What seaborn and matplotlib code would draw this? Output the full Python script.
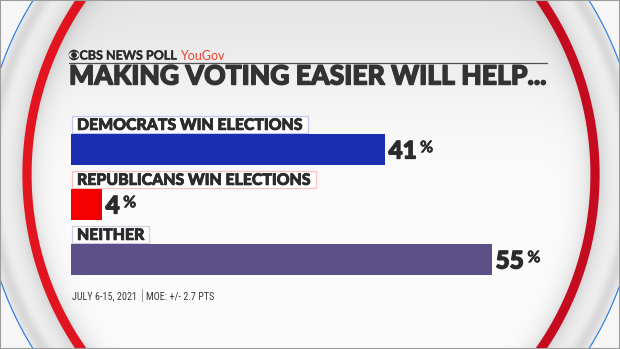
import numpy as np
import matplotlib
matplotlib.use("Agg")
import matplotlib.pyplot as plt
from matplotlib import font_manager as fm
from matplotlib import patheffects as pe
from matplotlib.colors import to_rgb
from matplotlib.patches import Ellipse, Circle, Rectangle
import seaborn as sns

# Poll results
categories = ["DEMOCRATS WIN ELECTIONS", "REPUBLICANS WIN ELECTIONS", "NEITHER"]
shares = [41, 4, 55]
bar_colors = ["#1b2db1", "#f40000", "#5d5089"]
label_edges = ["#c3c8f0", "#f4c2c2", "#d3cfe0"]

title_text = "MAKING VOTING EASIER WILL HELP..."
brand_text = "CBS NEWS POLL"
partner_text = "YouGov"
date_text = "JULY 6-15, 2021"
moe_text = "MOE: +/- 2.7 PTS"

W, H = 620, 349
INK = "#2b2b2b"

sns.set_theme(style="white")
plt.rcParams["font.family"] = ["Lato", "DejaVu Sans"]


def _weight(f):
    w = f.weight
    if isinstance(w, str):
        w = fm.weight_dict.get(w, 400)
    return int(w)


def find_face(families, min_w=0, max_w=1000, narrow=False):
    """Return a font file from the preferred families within a weight range."""
    best = None
    for rank, fam in enumerate(families):
        for f in fm.fontManager.ttflist:
            if f.name != fam or f.style != "normal":
                continue
            is_narrow = (f.stretch not in ("normal", 500) or "Narrow" in f.fname
                         or "Condensed" in f.fname)
            if narrow != is_narrow:
                continue
            w = _weight(f)
            if not (min_w <= w <= max_w):
                continue
            key = (rank, -w)
            if best is None or key < best[0]:
                best = (key, f.fname)
        if best is not None:
            return fm.FontProperties(fname=best[1])
    return None


heavy = (find_face(["Lato", "Roboto", "Inter", "Open Sans", "Noto Sans"], min_w=700)
         or fm.FontProperties(family="DejaVu Sans", weight="bold"))
semibold = (find_face(["Lato", "Roboto", "Open Sans"], min_w=600, max_w=750)
            or fm.FontProperties(family="Lato", weight="bold"))
narrow = (find_face(["Liberation Sans Narrow", "Liberation Sans", "Roboto Condensed",
                     "Open Sans", "DejaVu Sans", "Noto Sans"], max_w=450, narrow=True)
          or fm.FontProperties(family="Lato"))
regular = fm.FontProperties(family="Lato")


def thicken(px, color=INK):
    """Outline glyphs in their own colour to get a black weight."""
    return [pe.withStroke(linewidth=px * 0.72, foreground=color)]


fig = plt.figure(figsize=(W / 100, H / 100), dpi=100)
renderer = fig.canvas.get_renderer()

# ---- backdrop, drawn in pixel units with y pointing down ----
bg = fig.add_axes([0, 0, 1, 1])
bg.set_xticks([])
bg.set_yticks([])
for s in bg.spines.values():
    s.set_color("#9c9c9c")
    s.set_linewidth(1.5)

cx, cy = 311, 174.5
ring_a, ring_b = 284, 297
blue_r = 328

yy, xx = np.mgrid[0:H, 0:W] + 0.5
rho = np.hypot((xx - cx) / ring_a, (yy - cy) / ring_b)
d = (rho - 1) * 290
rb = np.hypot(xx - cx, yy - cy)
inner = (0.988 - 0.085 * np.exp(-((yy + 10) / 110) ** 2)
         - 0.18 * np.exp(np.minimum(d, 0) / 10))
bezel = (0.955 - 0.19 * np.exp(-np.maximum(d, 0) / 10)
         - 0.10 * np.exp(-((rb - 320) / 7) ** 2))
shade = np.where(d < 0, inner, np.where(rb < blue_r, bezel, 0.965))
rgb = np.repeat(shade[..., None], 3, axis=2)

# red ring, brighter on the lit left side
t = np.clip((xx - 30) / 560, 0, 1)[..., None]
red = (1 - t) * np.array(to_rgb("#e3151f")) + t * np.array(to_rgb("#c40b20"))
red_cov = np.clip(5.2 - np.abs(d), 0, 1)[..., None]
rgb = rgb * (1 - red_cov) + red * red_cov
# thin blue outer ring
blue_cov = np.clip(1.1 - np.abs(rb - blue_r), 0, 1)[..., None]
rgb = rgb * (1 - blue_cov) + np.array(to_rgb("#2a7de1")) * blue_cov

bg.imshow(rgb, extent=(0, W, H, 0), interpolation="bilinear",
          aspect="auto", zorder=0)
bg.set_xlim(0, W)
bg.set_ylim(H, 0)
to_px = bg.transData.inverted()


def px_box(artist):
    bb = artist.get_window_extent(renderer)
    (x0, y0), (x1, y1) = to_px.transform([(bb.x0, bb.y0), (bb.x1, bb.y1)])
    return min(x0, x1), max(x0, x1), min(y0, y1), max(y0, y1)


def fit(t, width_px):
    w = t.get_window_extent(renderer).width
    t.set_fontsize(t.get_fontsize() * width_px / w)


# ---- header ----
bg.add_patch(Circle((74, 55), 4.6, color=INK, zorder=3))
bg.add_patch(Ellipse((74, 55), 8.6, 5.0, color="white", zorder=4))
bg.add_patch(Circle((74, 55), 2.2, color=INK, zorder=5))
brand = bg.text(79.5, 59.5, brand_text, fontproperties=semibold, fontsize=9,
                color=INK, va="baseline", ha="left", zorder=3,
                path_effects=thicken(0.35))
fit(brand, 97)
bx1 = px_box(brand)[1]
bg.text(bx1 + 3.5, 59.5, partner_text, fontproperties=regular,
        fontsize=brand.get_fontsize(), color="#ee3f2c", va="baseline",
        ha="left", zorder=3)
bg.plot([69, 547], [63, 63], color="#505050", lw=0.9, zorder=3)
title = bg.text(69, 84.5, title_text, fontproperties=heavy, fontsize=17,
                color="#333333", va="baseline", ha="left", zorder=3,
                path_effects=thicken(1.4, "#333333"))
fit(title, 477)

# ---- bars ----
ax = fig.add_axes([71 / W, (H - 122 - 165) / H, 520 / W, 165 / H])
ax.patch.set_alpha(0)
sns.barplot(x=shares, y=categories, hue=categories, palette=bar_colors,
            legend=False, orient="h", width=0.546, saturation=1,
            linewidth=0, ax=ax)
ax.set_xlim(0, 68)
ax.set_ylim(2.5, -0.5)
ax.axis("off")

bars = sorted(ax.patches, key=lambda p: p.get_y())
label_size = None
lab_cap = 10.0
num_size, pct_size = 17.5, 11.5
for bar, cat, val, edge in zip(bars, categories, shares, label_edges):
    x0, x1, top, bottom = px_box(bar)
    base = top - 4.6
    lab = bg.text(x0 + 6, base, cat, fontproperties=heavy,
                  fontsize=label_size or 10, color=INK, va="baseline",
                  ha="left", zorder=6, path_effects=thicken(0.8))
    if label_size is None:
        fit(lab, 225)
        label_size = lab.get_fontsize()
    lx0, lx1, _, _ = px_box(lab)
    bg.add_patch(Rectangle((x0 + 1, base - lab_cap - 4.3), lx1 - x0 + 3,
                           lab_cap + 7.0, fc="white", ec=edge, lw=0.9, zorder=5))

    nbase = (top + bottom) / 2 + 9.0
    num = bg.text(x1 + 4, nbase, f"{val}", fontproperties=heavy,
                  fontsize=num_size, color=INK, va="baseline", ha="left",
                  zorder=6, path_effects=thicken(1.3))
    nx1 = px_box(num)[1]
    bg.text(nx1 + 3.5, nbase - 6.2, "%", fontproperties=semibold,
            fontsize=pct_size, color=INK, va="baseline", ha="left", zorder=6,
            path_effects=thicken(0.6))

# ---- footer ----
date = bg.text(72, 299, date_text, fontproperties=narrow, fontsize=8,
               color="#3a3a3a", va="baseline", ha="left", zorder=3)
fit(date, 65)
bg.plot([142, 142], [289, 301], color="#9a9a9a", lw=0.7, zorder=3)
moe = bg.text(146, 299, moe_text, fontproperties=narrow,
              fontsize=date.get_fontsize(), color="#3a3a3a", va="baseline",
              ha="left", zorder=3)

fig.savefig("out.png", dpi=100)
